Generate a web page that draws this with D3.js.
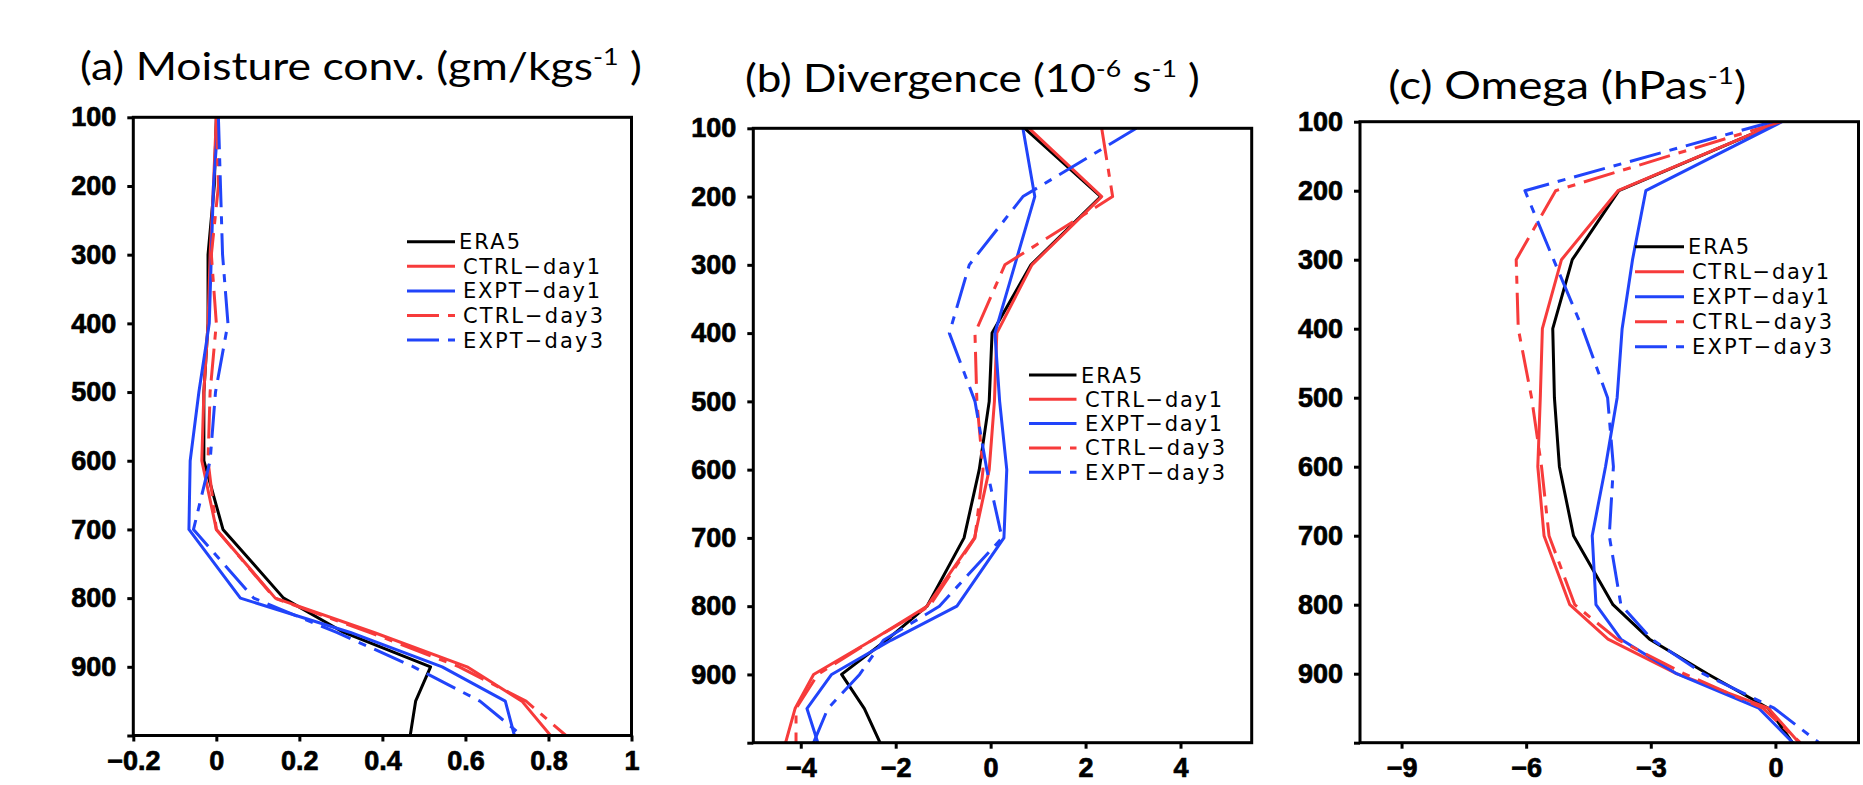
<!DOCTYPE html>
<html>
<head>
<meta charset="utf-8">
<script src="https://cdn.jsdelivr.net/npm/d3@7"></script>
<style>
  html, body { margin: 0; padding: 0; background: #fff; }
  svg { display: block; }
</style>
</head>
<body>
<svg id="fig" width="1863" height="785"></svg>
<script>
// Pressure levels (hPa) of the vertical profiles
const levels = [100, 200, 300, 400, 500, 600, 700, 800, 850, 900, 950, 1000];
const seriesNames = ["ERA5", "CTRL−day1", "EXPT−day1", "CTRL−day3", "EXPT−day3"];

const pressureTicks  = [100, 200, 300, 400, 500, 600, 700, 800, 900, 1000];
const pressureLabels = ["100", "200", "300", "400", "500", "600", "700", "800", "900", ""];

// (a) Moisture convergence
const moistTicks  = [-0.2, 0, 0.2, 0.4, 0.6, 0.8, 1];
const moistLabels = ["−0.2", "0", "0.2", "0.4", "0.6", "0.8", "1"];
const moistEra5  = [0.000, -0.005, -0.020, -0.020, -0.030, -0.030,  0.016, 0.162, 0.307, 0.516, 0.480, 0.467];
const moistCtrl1 = [0.000, -0.007, -0.015, -0.020, -0.030, -0.035,  0.000, 0.142, 0.380, 0.604, 0.736, 0.805];
const moistExpt1 = [0.005, -0.007, -0.012, -0.017, -0.042, -0.063, -0.066, 0.058, 0.323, 0.544, 0.696, 0.718];
const moistCtrl3 = [0.000,  0.005, -0.012,  0.000, -0.015, -0.020,  0.000, 0.140, 0.370, 0.585, 0.746, 0.842];
const moistExpt3 = [0.005,  0.010,  0.015,  0.028, -0.002, -0.015, -0.055, 0.090, 0.290, 0.475, 0.635, 0.736];

// (b) Divergence
const divTicks  = [-4, -2, 0, 2, 4];
const divLabels = ["−4", "−2", "0", "2", "4"];
const divEra5  = [0.72, 2.32,  0.85,  0.03, -0.03, -0.24, -0.56, -1.34, -2.20, -3.14, -2.66, -2.33];
const divCtrl1 = [0.81, 2.34,  0.87,  0.13,  0.08, -0.03, -0.34, -1.34, -2.50, -3.73, -4.12, -4.32];
const divExpt1 = [0.68, 0.93,  0.51,  0.09,  0.19,  0.34,  0.28, -0.71, -2.10, -3.35, -3.87, -3.64];
const divCtrl3 = [2.34, 2.57,  0.30, -0.33, -0.29, -0.16, -0.33, -1.29, -2.50, -3.64, -4.10, -4.10];
const divExpt3 = [3.07, 0.68, -0.45, -0.87, -0.33, -0.08,  0.24, -1.08, -2.26, -2.76, -3.43, -3.73];

// (c) Omega
const omegaTicks  = [-9, -6, -3, 0];
const omegaLabels = ["−9", "−6", "−3", "0"];
const omegaEra5  = [ 0.13, -3.77, -4.89, -5.36, -5.32, -5.20, -4.86, -3.91, -3.03, -1.64, -0.17, 0.41];
const omegaCtrl1 = [ 0.13, -3.79, -5.15, -5.61, -5.66, -5.72, -5.57, -4.95, -4.03, -2.38, -0.17, 0.57];
const omegaExpt1 = [ 0.16, -3.12, -3.44, -3.69, -3.81, -4.09, -4.41, -4.32, -3.72, -2.38, -0.40, 0.42];
const omegaCtrl3 = [ 0.13, -5.29, -6.24, -6.19, -5.87, -5.63, -5.45, -4.83, -3.81, -2.20, -0.30, 0.60];
const omegaExpt3 = [-0.07, -6.03, -5.34, -4.64, -4.04, -3.90, -4.00, -3.72, -2.98, -1.74, -0.03, 1.05];

// Line styles shared by the three panels (ERA5, CTRL-day1, EXPT-day1, CTRL-day3, EXPT-day3)
const RED = "#f73b3b", BLUE = "#2144fa";
const DASH = "32,9,8,9";
const styles = [
  { color: "#000", dash: null },
  { color: RED,    dash: null },
  { color: BLUE,   dash: null },
  { color: RED,    dash: DASH },
  { color: BLUE,   dash: DASH }
];
const legendWidths = [61, 137, 137, 140, 140];

const TICK_FONT = "'Liberation Sans Narrow', 'Liberation Sans', Arial, sans-serif";
const TITLE_FONT = "Lato, 'Open Sans', sans-serif";
const LEGEND_FONT = "'DejaVu Sans', sans-serif";

const svg = d3.select("#fig");
svg.append("rect").attr("width", 1863).attr("height", 785).attr("fill", "#fff");

const panels = [
  {
    id: "a", box: { x0: 133.3, x1: 631.5, y0: 117.3, y1: 735.5 },
    xDomain: [-0.2, 1.0], xTicks: moistTicks, xLabels: moistLabels,
    series: [moistEra5, moistCtrl1, moistExpt1, moistCtrl3, moistExpt3],
    title: { x: 80, y: 80, width: 562, parts: [["(a) Moisture conv. (gm/kgs", 0], ["-1", 1], [" )", 0]] },
    legend: { lx0: 407, lx1: 455, tx: 463, y0: 241.7, dy: 24.6 }
  },
  {
    id: "b", box: { x0: 753.3, x1: 1251.7, y0: 128.3, y1: 742.7 },
    xDomain: [-5, 5.5], xTicks: divTicks, xLabels: divLabels,
    series: [divEra5, divCtrl1, divExpt1, divCtrl3, divExpt3],
    title: { x: 745, y: 92, width: 455, parts: [["(b) Divergence (10", 0], ["-6", 1], [" s", 0], ["-1", 1], [" )", 0]] },
    legend: { lx0: 1029, lx1: 1076.5, tx: 1085, y0: 375, dy: 24.3 }
  },
  {
    id: "c", box: { x0: 1360, x1: 1858.5, y0: 121.7, y1: 742.7 },
    xDomain: [-10, 2], xTicks: omegaTicks, xLabels: omegaLabels,
    series: [omegaEra5, omegaCtrl1, omegaExpt1, omegaCtrl3, omegaExpt3],
    title: { x: 1388.3, y: 99, width: 358, parts: [["(c) Omega (hPas", 0], ["-1", 1], [")", 0]] },
    legend: { lx0: 1635, lx1: 1684, tx: 1692, y0: 246.7, dy: 25 }
  }
];

panels.forEach(p => {
  const b = p.box;
  const x = d3.scaleLinear().domain(p.xDomain).range([b.x0, b.x1]);
  const y = d3.scaleLinear().domain([100, 1000]).range([b.y0, b.y1]);
  const g = svg.append("g").attr("class", "panel-" + p.id);

  // clip profiles to the plotting frame
  g.append("clipPath").attr("id", "clip-" + p.id)
    .append("rect").attr("x", b.x0).attr("y", b.y0)
    .attr("width", b.x1 - b.x0).attr("height", b.y1 - b.y0);

  // profiles
  const line = d3.line().x(d => x(d[0])).y(d => y(d[1]));
  const plot = g.append("g").attr("clip-path", `url(#clip-${p.id})`);
  p.series.forEach((vals, i) => {
    const pts = vals.map((v, k) => [v, levels[k]]);
    plot.append("path")
      .attr("d", line(pts))
      .attr("fill", "none")
      .attr("stroke", styles[i].color)
      .attr("stroke-width", 3)
      .attr("stroke-linejoin", "round")
      .attr("stroke-dasharray", styles[i].dash);
  });

  // frame
  g.append("rect")
    .attr("x", b.x0).attr("y", b.y0)
    .attr("width", b.x1 - b.x0).attr("height", b.y1 - b.y0)
    .attr("fill", "none").attr("stroke", "#000").attr("stroke-width", 3);

  // axes
  const yAxis = d3.axisLeft(y).tickValues(pressureTicks)
    .tickFormat((d, i) => pressureLabels[i]).tickSize(6).tickPadding(11);
  const xAxis = d3.axisBottom(x).tickValues(p.xTicks)
    .tickFormat((d, i) => p.xLabels[i]).tickSize(6).tickPadding(9);

  const gy = g.append("g").attr("transform", `translate(${b.x0},0)`).call(yAxis);
  const gx = g.append("g").attr("transform", `translate(0,${b.y1})`).call(xAxis);
  [gx, gy].forEach(ax => {
    ax.select(".domain").remove();
    ax.selectAll(".tick line").attr("stroke", "#000").attr("stroke-width", 3);
    ax.selectAll(".tick text")
      .attr("fill", "#000")
      .attr("stroke", "#000")
      .attr("stroke-width", 0.7)
      .style("font-family", TICK_FONT)
      .style("font-weight", "bold")
      .style("font-size", "27px");
  });

  // title, stretched horizontally to its box width
  const t = svg.append("text")
    .attr("x", p.title.x).attr("y", p.title.y)
    .style("font-family", TITLE_FONT)
    .style("font-size", "38px")
    .attr("fill", "#000");
  let raised = false;
  p.title.parts.forEach(([txt, sup]) => {
    const ts = t.append("tspan").text(txt);
    if (sup && !raised) { ts.attr("dy", -15).style("font-size", "23px"); raised = true; }
    else if (sup && raised) { ts.style("font-size", "23px"); }
    else if (!sup && raised) { ts.attr("dy", 15); raised = false; }
  });
  const bb = t.node().getBBox();
  const sx = p.title.width / bb.width;
  t.attr("transform", `translate(${p.title.x},0) scale(${sx},1) translate(${-p.title.x},0)`);

  // legend
  const lg = g.append("g").attr("class", "legend");
  seriesNames.forEach((name, i) => {
    const yy = p.legend.y0 + i * p.legend.dy;
    lg.append("line")
      .attr("x1", p.legend.lx0).attr("x2", p.legend.lx1)
      .attr("y1", yy).attr("y2", yy)
      .attr("stroke", styles[i].color).attr("stroke-width", 3)
      .attr("stroke-dasharray", styles[i].dash);
    lg.append("text")
      .attr("x", p.legend.tx - (i === 0 ? 4 : 0)).attr("y", yy).attr("dy", "0.36em")
      .attr("textLength", legendWidths[i]).attr("lengthAdjust", "spacing")
      .style("font-family", LEGEND_FONT).style("font-size", "21px")
      .attr("fill", "#000").text(name);
  });
});
</script>
</body>
</html>
